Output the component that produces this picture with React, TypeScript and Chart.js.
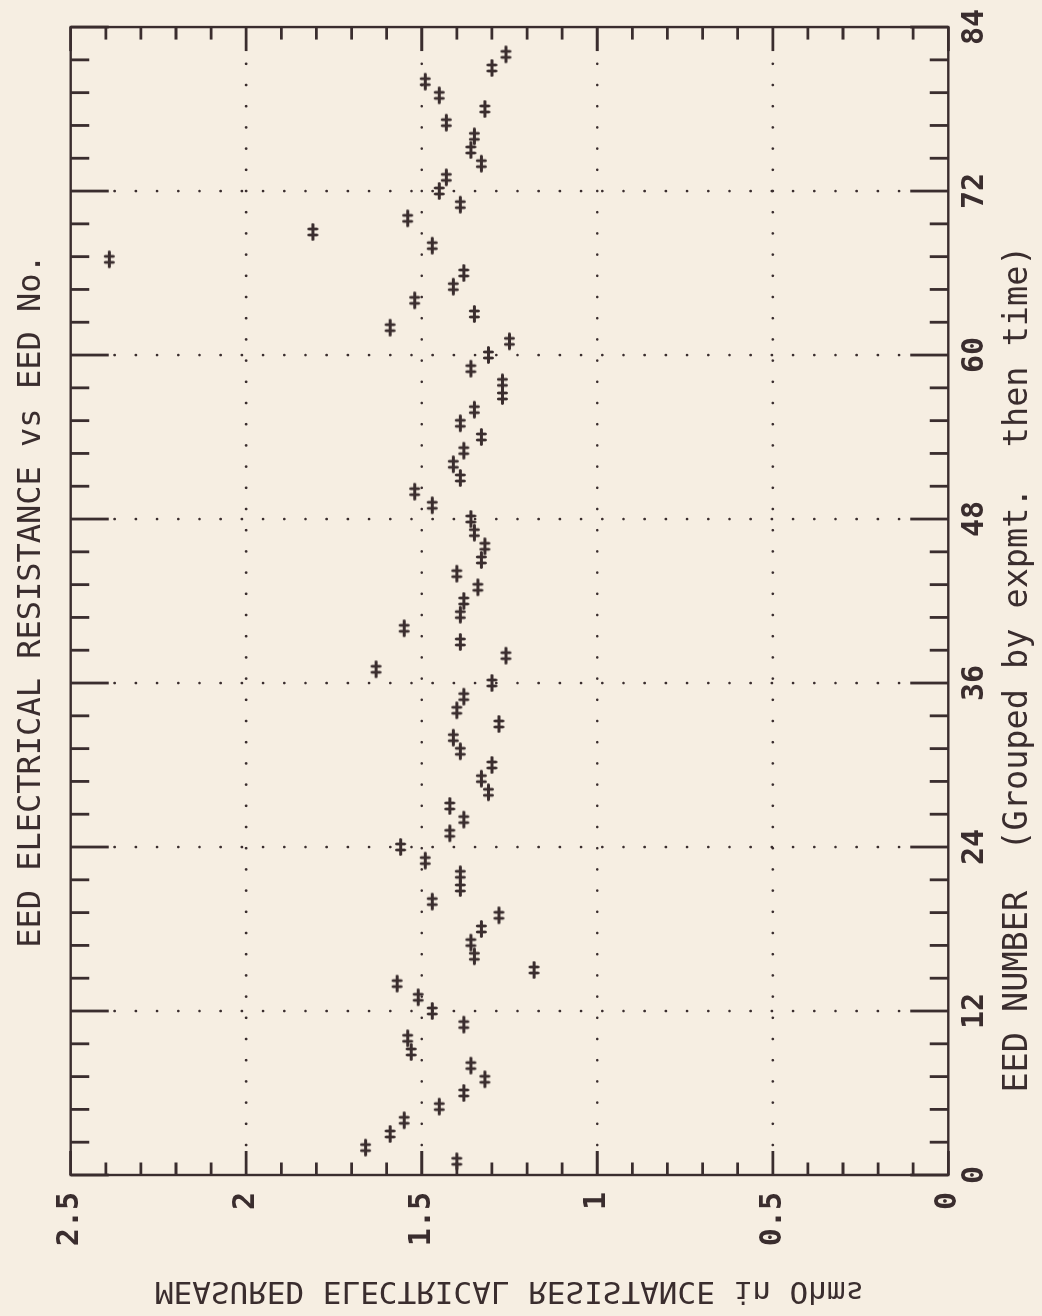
import React, { useEffect, useRef } from 'react';
import { Chart, registerables } from 'chart.js';

Chart.register(...registerables);

// ---- data ----
const eedNumbers = [
  1, 2, 3, 4, 5, 6, 7, 8, 9, 10, 11, 12, 13, 14, 15, 16, 17, 18, 19, 20,
  21, 22, 23, 24, 25, 26, 27, 28, 29, 30, 31, 32, 33, 34, 35, 36, 37, 38, 39, 40,
  41, 42, 43, 44, 45, 46, 47, 48, 49, 50, 51, 52, 53, 54, 55, 56, 57, 58, 59, 60,
  61, 62, 63, 64, 65, 66, 67, 68, 69, 70, 71, 72, 73, 74, 75, 76, 77, 78, 79, 80,
  81, 82,
];
const resistanceOhms = [
  1.40, 1.66, 1.59, 1.55, 1.45, 1.38, 1.32, 1.36, 1.53, 1.54,
  1.38, 1.47, 1.51, 1.57, 1.18, 1.35, 1.36, 1.33, 1.28, 1.47,
  1.39, 1.39, 1.49, 1.56, 1.42, 1.38, 1.42, 1.31, 1.33, 1.30,
  1.39, 1.41, 1.28, 1.40, 1.38, 1.30, 1.63, 1.26, 1.39, 1.55,
  1.39, 1.38, 1.34, 1.40, 1.33, 1.32, 1.35, 1.36, 1.47, 1.52,
  1.39, 1.41, 1.38, 1.33, 1.39, 1.35, 1.27, 1.27, 1.36, 1.31,
  1.25, 1.59, 1.35, 1.52, 1.41, 1.38, 2.39, 1.47, 1.81, 1.54,
  1.39, 1.45, 1.43, 1.33, 1.36, 1.35, 1.43, 1.32, 1.45, 1.49,
  1.30, 1.26,
];
const eedTickValues = [0, 12, 24, 36, 48, 60, 72, 84];
const eedMinorStep = 2.4;
const resistanceTickValues = [0, 0.5, 1, 1.5, 2, 2.5];
const resistanceMinorStep = 0.1;
const chartTitle = 'EED ELECTRICAL RESISTANCE vs EED No.';
const xAxisTitle = 'EED NUMBER  (Grouped by expmt.  then time)';
const yAxisTitle = 'MEASURED ELECTRICAL RESISTANCE in Ohms';

// ---- style ----
const INK = '#3a2d2e';
const PAPER = '#f6eee2';
const FONT = '"DejaVu Sans Mono", monospace';
const CANVAS_W = 1316; // drawn unrotated, then turned a quarter turn
const CANVAS_H = 1042;

function makeMarker(): HTMLCanvasElement {
  const c = document.createElement('canvas');
  c.width = 20;
  c.height = 13;
  const g = c.getContext('2d')!;
  g.strokeStyle = INK;
  g.lineWidth = 2.8;
  g.lineCap = 'round';
  g.beginPath();
  g.moveTo(2.5, 6.5);
  g.lineTo(17.5, 6.5);
  g.moveTo(7, 2.5);
  g.lineTo(7, 10.5);
  g.moveTo(13, 2.5);
  g.lineTo(13, 10.5);
  g.stroke();
  return c;
}

const plotterPlugin = {
  id: 'plotter',
  beforeDatasetsDraw(chart: any) {
    const { ctx, chartArea: a, scales } = chart;
    const xs = scales.x;
    const ys = scales.y;
    ctx.save();
    ctx.strokeStyle = INK;
    // dotted grid
    ctx.lineWidth = 2.7;
    ctx.lineCap = 'round';
    ctx.setLineDash([0, 21.2]);
    eedTickValues.forEach((v) => {
      if (v <= xs.min || v >= xs.max) return;
      const p = xs.getPixelForValue(v);
      ctx.beginPath();
      ctx.moveTo(p, a.top + 44);
      ctx.lineTo(p, a.bottom - 30);
      ctx.stroke();
    });
    resistanceTickValues.forEach((v) => {
      if (v <= ys.min || v >= ys.max) return;
      const p = ys.getPixelForValue(v);
      ctx.beginPath();
      ctx.moveTo(a.left + 30, p);
      ctx.lineTo(a.right - 28, p);
      ctx.stroke();
    });
    ctx.setLineDash([]);
    ctx.lineCap = 'butt';
    // frame
    ctx.lineWidth = 2.4;
    ctx.strokeRect(a.left, a.top, a.right - a.left, a.bottom - a.top);
    // inward ticks along the EED scale
    ctx.lineWidth = 2.8;
    const nx = Math.round((xs.max - xs.min) / eedMinorStep);
    for (let i = 0; i <= nx; i++) {
      const v = xs.min + i * eedMinorStep;
      const p = xs.getPixelForValue(v);
      const len = i % 5 === 0 ? 38 : 18.5;
      ctx.beginPath();
      ctx.moveTo(p, a.top);
      ctx.lineTo(p, a.top + len);
      ctx.moveTo(p, a.bottom);
      ctx.lineTo(p, a.bottom - len);
      ctx.stroke();
    }
    // inward ticks along the resistance scale
    const ny = Math.round((ys.max - ys.min) / resistanceMinorStep);
    for (let i = 0; i <= ny; i++) {
      const v = ys.min + i * resistanceMinorStep;
      const p = ys.getPixelForValue(v);
      const len = i % 5 === 0 ? 24 : 12.5;
      ctx.beginPath();
      ctx.moveTo(a.left, p);
      ctx.lineTo(a.left + len, p);
      ctx.moveTo(a.right, p);
      ctx.lineTo(a.right - len, p);
      ctx.stroke();
    }
    // axis titles
    ctx.fillStyle = INK;
    ctx.textAlign = 'center';
    ctx.textBaseline = 'middle';
    ctx.font = `33.5px ${FONT}`;
    ctx.fillText(xAxisTitle, (a.left + a.right) / 2 - 68, a.bottom + 70);
    // resistance title: mirrored as in the original plot
    ctx.font = `31px ${FONT}`;
    ctx.setTransform(0, 1, 1, 0, 26, (a.top + a.bottom) / 2);
    ctx.fillText(yAxisTitle, 0, 0);
    ctx.restore();
  },
};

export default function App() {
  const canvasRef = useRef<HTMLCanvasElement | null>(null);

  useEffect(() => {
    const canvas = canvasRef.current;
    if (!canvas) return;
    const marker = makeMarker();
    const chart = new Chart(canvas, {
      type: 'scatter',
      data: {
        datasets: [
          {
            data: eedNumbers.map((n, i) => ({ x: n, y: resistanceOhms[i] })),
            pointStyle: marker as any,
            pointRadius: 6,
            showLine: false,
          },
        ],
      },
      plugins: [plotterPlugin],
      options: {
        animation: false,
        responsive: false,
        maintainAspectRatio: false,
        devicePixelRatio: 1,
        layout: { padding: { left: 0, right: 20.7, top: 0, bottom: 0 } },
        plugins: {
          legend: { display: false },
          tooltip: { enabled: false },
          title: {
            display: true,
            text: chartTitle,
            fullSize: false,
            color: INK,
            font: { family: FONT, size: 32, weight: 'normal' as any },
            padding: { top: 12, bottom: 20.3 },
          },
        },
        scales: {
          x: {
            type: 'linear',
            min: 0,
            max: 84,
            position: 'bottom',
            afterBuildTicks: (s: any) => {
              s.ticks = eedTickValues.map((v) => ({ value: v }));
            },
            afterFit: (s: any) => {
              s.height = 93.7;
            },
            ticks: {
              color: INK,
              font: { family: FONT, size: 30, weight: 'bold' as any },
              padding: 9,
              maxRotation: 0,
              minRotation: 0,
              autoSkip: false,
              callback: (v: any) => String(v),
            },
            grid: { display: false, drawTicks: false },
            border: { display: false },
          },
          y: {
            type: 'linear',
            min: 0,
            max: 2.5,
            position: 'left',
            afterBuildTicks: (s: any) => {
              s.ticks = resistanceTickValues.map((v) => ({ value: v }));
            },
            afterFit: (s: any) => {
              s.width = 141;
            },
            ticks: {
              color: INK,
              font: { family: FONT, size: 30, weight: 'bold' as any },
              padding: 17,
              autoSkip: false,
              callback: (v: any) => String(v),
            },
            grid: { display: false, drawTicks: false },
            border: { display: false },
          },
        },
      },
    });
    return () => chart.destroy();
  }, []);

  return (
    <div
      style={{
        position: 'absolute',
        left: 0,
        top: 0,
        width: CANVAS_H,
        height: CANVAS_W,
        overflow: 'hidden',
        background: PAPER,
      }}
    >
      <div
        style={{
          position: 'absolute',
          left: 0,
          top: 0,
          width: CANVAS_W,
          height: CANVAS_H,
          transformOrigin: '0 0',
          transform: `translate(0px, ${CANVAS_W}px) rotate(-90deg)`,
        }}
      >
        <canvas ref={canvasRef} width={CANVAS_W} height={CANVAS_H} style={{ display: 'block' }} />
      </div>
    </div>
  );
}
